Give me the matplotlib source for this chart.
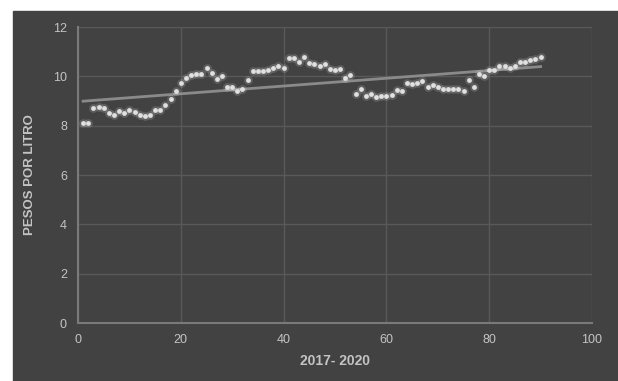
import numpy as np
import matplotlib.pyplot as plt
from matplotlib.patches import Rectangle

plt.rcParams['font.family'] = ['Liberation Sans', 'DejaVu Sans']

x_values = list(range(1, 91))
precios = [8.1, 8.1, 8.7, 8.75, 8.7, 8.5, 8.45, 8.6, 8.5, 8.65,
           8.55, 8.45, 8.4, 8.45, 8.65, 8.65, 8.85, 9.1, 9.4, 9.75,
           9.95, 10.05, 10.1, 10.1, 10.35, 10.15, 9.9, 10.0, 9.55, 9.55,
           9.4, 9.5, 9.85, 10.2, 10.2, 10.2, 10.25, 10.35, 10.4, 10.35,
           10.75, 10.75, 10.6, 10.8, 10.55, 10.5, 10.4, 10.5, 10.3, 10.25,
           10.3, 9.95, 10.05, 9.3, 9.5, 9.2, 9.3, 9.15, 9.2, 9.2,
           9.25, 9.45, 9.4, 9.75, 9.7, 9.75, 9.8, 9.55, 9.65, 9.55,
           9.5, 9.5, 9.5, 9.5, 9.4, 9.85, 9.55, 10.1, 10.0, 10.25,
           10.25, 10.4, 10.4, 10.35, 10.4, 10.6, 10.6, 10.65, 10.7, 10.8]
x_ticks = [0, 20, 40, 60, 80, 100]
y_ticks = [0, 2, 4, 6, 8, 10, 12]

bg = "#424242"
text_col = "#c4c4c4"

fig = plt.figure(figsize=(6.18, 3.81), dpi=100, facecolor="white")
fig.patches.append(Rectangle((13 / 618, 0), 1, (381 - 11) / 381,
                             transform=fig.transFigure, color=bg, zorder=-10))

ax = fig.add_axes([78 / 618, (381 - 323) / 381, (592 - 78) / 618, (323 - 27) / 381])
ax.set_facecolor(bg)
ax.set_xlim(0, 100)
ax.set_ylim(0, 12)
ax.set_xticks(x_ticks)
ax.set_yticks(y_ticks)
ax.grid(True, color="#595959", linewidth=1)
ax.set_axisbelow(True)
for side in ["top", "right"]:
    ax.spines[side].set_visible(False)
for side in ["left", "bottom"]:
    ax.spines[side].set_color("#7a7a7a")
    ax.spines[side].set_linewidth(1.5)
ax.tick_params(length=0, colors=text_col, labelsize=9, pad=8)

# trendline from data
coef = np.polyfit(x_values, precios, 1)
xs = np.array([1, 90])
ax.plot(xs, np.polyval(coef, xs), color="#8a8a8a", linewidth=2, zorder=2)

# glow + dots
ax.scatter(x_values, precios, s=40, color="white", alpha=0.15, linewidths=0, zorder=3)
ax.scatter(x_values, precios, s=12, color="#e0e0e0", linewidths=0, zorder=4)

ax.set_xlabel("2017- 2020", color=text_col, fontsize=10, fontweight="bold", labelpad=6)
ax.set_ylabel("PESOS POR LITRO", color=text_col, fontsize=9.5, fontweight="bold", labelpad=12)

plt.savefig("out.png", dpi=100, facecolor="white")
